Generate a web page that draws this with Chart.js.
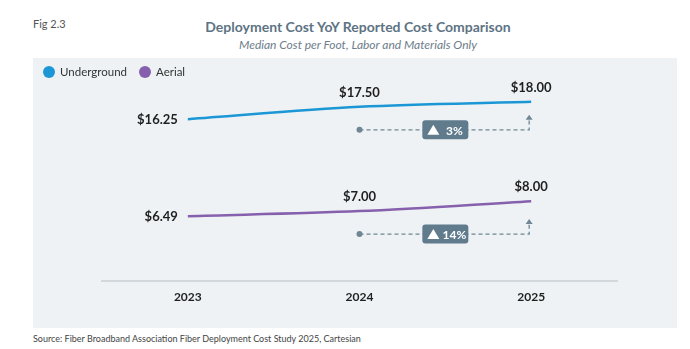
<!DOCTYPE html>
<html>
<head>
<meta charset="utf-8">
<script src="https://cdn.jsdelivr.net/npm/chart.js@4.4.1/dist/chart.umd.min.js"></script>
<style>
  body { margin: 0; background: #fff; font-family: Lato, "Open Sans", sans-serif; }
  #page { position: relative; width: 690px; height: 349px; overflow: hidden; }
  #fig { position: absolute; left: 33px; top: 17px; font-size: 11px; color: #555; }
  #title { position: absolute; left: 0; width: 716px; top: 18px; text-align: center; font-size: 14px; font-weight: bold; color: #5d7384; }
  #subtitle { position: absolute; left: 0; width: 716px; top: 37px; text-align: center; font-size: 12px; font-style: italic; color: #6d7d89; }
  #panel { position: absolute; left: 33px; top: 58px; width: 644px; height: 270px; background: #eef2f5; }
  #legend { position: absolute; left: 43px; top: 65px; font-size: 11.5px; color: #333; display: flex; align-items: center; }
  #legend span.dot { display: inline-block; width: 12px; height: 12px; border-radius: 50%; margin-right: 5px; }
  #legend span.item { display: flex; align-items: center; margin-right: 12px; }
  #source { position: absolute; left: 33px; top: 333px; font-size: 9px; color: #444; }
</style>
</head>
<body>
<div id="page">
  <div id="fig">Fig 2.3</div>
  <div id="title">Deployment Cost YoY Reported Cost Comparison</div>
  <div id="subtitle">Median Cost per Foot, Labor and Materials Only</div>
  <div id="panel"><canvas id="costChart" width="644" height="270"></canvas></div>
  <div id="legend">
    <span class="item"><span class="dot" style="background:#1b97d5"></span>Underground</span>
    <span class="item"><span class="dot" style="background:#8660ad"></span>Aerial</span>
  </div>
  <div id="source">Source: Fiber Broadband Association Fiber Deployment Cost Study 2025, Cartesian</div>
</div>
<script>
var years = ["2023", "2024", "2025"];
var underground = [16.25, 17.5, 18.0];
var aerial = [6.49, 7.0, 8.0];
var changeLabels = ["3%", "14%"];

// value labels + YoY change annotations
var labelPlugin = {
  id: "labels",
  afterDatasetsDraw: function (chart) {
    var ctx = chart.ctx;
    ctx.save();
    chart.data.datasets.forEach(function (ds, di) {
      var meta = chart.getDatasetMeta(di);
      ctx.fillStyle = "#1f1f1f";
      ctx.font = "bold 13px Lato, sans-serif";
      meta.data.forEach(function (pt, i) {
        var txt = "$" + ds.data[i].toFixed(2);
        if (i === 0) {
          ctx.textAlign = "right";
          ctx.textBaseline = "middle";
          ctx.fillText(txt, pt.x - 10, pt.y + 1);
        } else {
          ctx.textAlign = "center";
          ctx.textBaseline = "middle";
          ctx.fillText(txt, pt.x, pt.y - 14);
        }
      });

      // dashed change line from 2024 to 2025
      var p1 = meta.data[1], p2 = meta.data[2];
      var y = p1.y + 23;
      var xEnd = p2.x - 2;
      ctx.strokeStyle = "#6f8694";
      ctx.lineWidth = 1.3;
      ctx.setLineDash([4, 3]);
      ctx.beginPath();
      ctx.moveTo(p1.x, y);
      ctx.lineTo(xEnd, y);
      ctx.lineTo(xEnd, y - 11);
      ctx.stroke();
      ctx.setLineDash([]);
      ctx.fillStyle = "#6f8694";
      ctx.beginPath();
      ctx.arc(p1.x, y, 3, 0, Math.PI * 2);
      ctx.fill();
      ctx.beginPath();
      ctx.moveTo(xEnd - 3.5, y - 10);
      ctx.lineTo(xEnd + 3.5, y - 10);
      ctx.lineTo(xEnd, y - 15);
      ctx.closePath();
      ctx.fill();

      // badge
      var bx = (p1.x + xEnd) / 2 - 23 + 1;
      var bw = 46, bh = 19;
      ctx.fillStyle = "#5f7b8c";
      ctx.beginPath();
      ctx.roundRect(bx, y - bh / 2, bw, bh, 3);
      ctx.fill();
      ctx.fillStyle = "#fff";
      ctx.beginPath();
      ctx.moveTo(bx + 5, y + 5);
      ctx.lineTo(bx + 17, y + 5);
      ctx.lineTo(bx + 11, y - 5);
      ctx.closePath();
      ctx.fill();
      ctx.font = "bold 12px Lato, sans-serif";
      ctx.textAlign = "center";
      ctx.fillText(changeLabels[di], bx + 32, y + 1);
    });
    ctx.restore();
  }
};

new Chart(document.getElementById("costChart").getContext("2d"), {
  type: "line",
  data: {
    labels: years,
    datasets: [
      {
        label: "Underground",
        data: underground,
        borderColor: "#1b97d5",
        borderWidth: 2.5,
        pointRadius: 0,
        cubicInterpolationMode: "monotone",
      },
      {
        label: "Aerial",
        data: aerial,
        borderColor: "#8660ad",
        borderWidth: 2.5,
        pointRadius: 0,
        cubicInterpolationMode: "monotone",
      },
    ],
  },
  options: {
    responsive: false,
    animation: false,
    layout: { padding: { left: 69, right: 60, top: 24, bottom: 23 } },
    plugins: { legend: { display: false }, tooltip: { enabled: false } },
    scales: {
      x: {
        offset: true,
        grid: { display: false },
        border: { color: "#d3d8dc", width: 2 },
        ticks: { color: "#1f1f1f", font: { family: "Lato", size: 12, weight: "bold" }, padding: 1 },
      },
      y: { display: false, min: 0, max: 20 },
    },
  },
  plugins: [labelPlugin],
});
</script>
</body>
</html>
